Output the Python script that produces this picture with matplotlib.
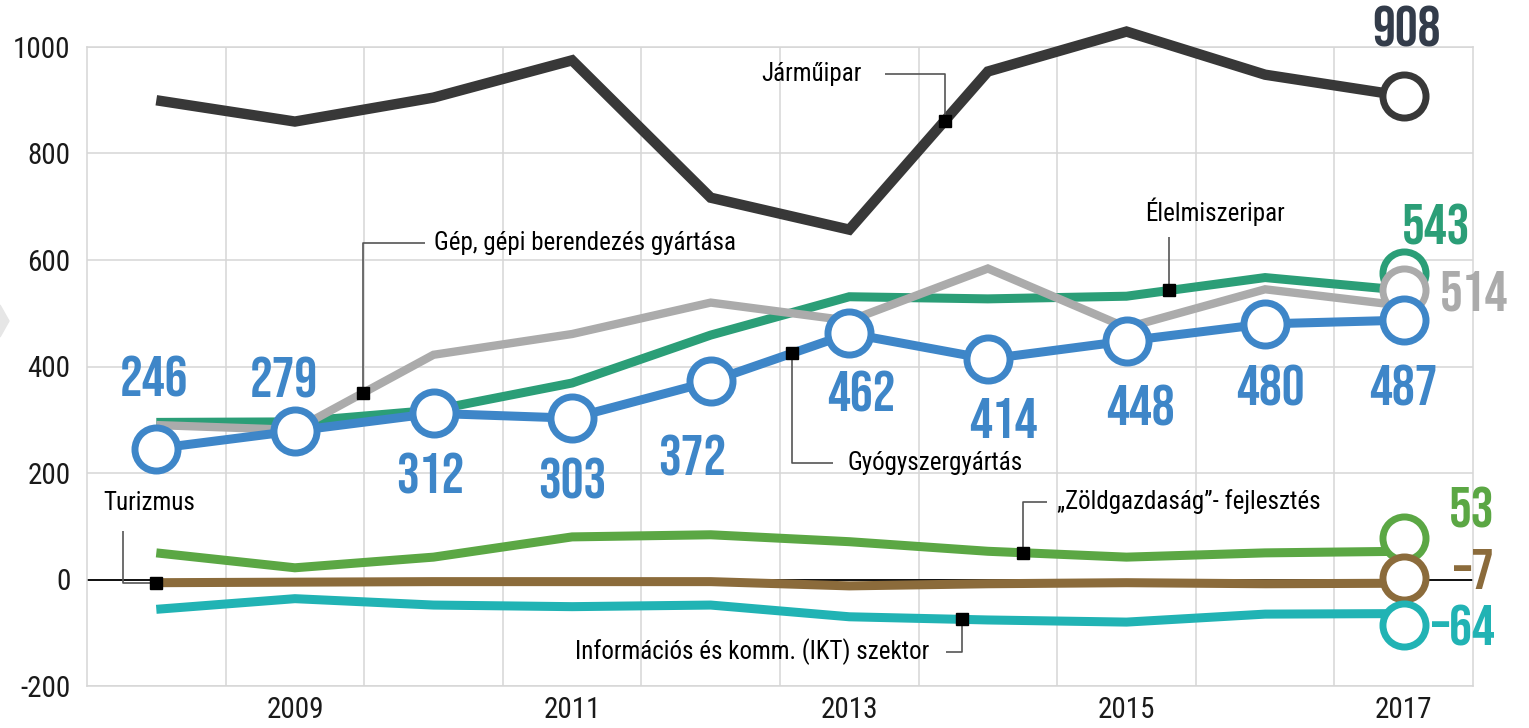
import numpy as np
import matplotlib
matplotlib.use('Agg')
import matplotlib.pyplot as plt
from matplotlib.patches import Polygon
from matplotlib.transforms import ScaledTranslation

# data (2008-2017)
years = [2008, 2009, 2010, 2011, 2012, 2013, 2014, 2015, 2016, 2017]
jarmuipar = [900, 860, 905, 975, 717, 657, 954, 1029, 948, 908]
gep = [290, 281, 422, 461, 520, 486, 584, 473, 545, 514]
elelmiszeripar = [295, 296, 318, 369, 459, 531, 527, 532, 567, 543]
gyogyszer = [246, 279, 312, 303, 372, 462, 414, 448, 480, 487]
zold = [50, 22, 42, 80, 84, 71, 53, 42, 50, 53]
turizmus = [-6, -5, -4, -4, -4, -12, -8, -6, -8, -7]
ikt = [-56, -36, -48, -51, -48, -70, -76, -80, -65, -64]

TEXT_FONT = ['Roboto Condensed', 'Liberation Sans', 'DejaVu Sans']
NUM_FONT = ['Bebas Neue', 'Roboto Condensed', 'DejaVu Sans']
plt.rcParams['font.family'] = TEXT_FONT

W, H = 1529, 728
PX = 0.72  # points per pixel at dpi 100

fig = plt.figure(figsize=(W / 100, H / 100), dpi=100)
ax = fig.add_axes([87 / W, 1 - 686 / H, (1473 - 87) / W, (686 - 47) / H])
x = np.arange(len(years))

ax.set_xlim(-0.5, len(years) - 0.5)
ax.set_ylim(-200, 1000)
ax.set_yticks(range(-200, 1001, 200))
ax.set_yticklabels([str(v) for v in range(-200, 1001, 200)])
ax.set_xticks(x[1::2])
ax.set_xticklabels([str(y) for y in years[1::2]])
ax.set_xticks(x[:-1] + 0.5, minor=True)
ax.tick_params(axis='both', which='both', length=0, labelsize=21, colors='#1a1a1a')
ax.tick_params(axis='y', pad=12)
ax.tick_params(axis='x', pad=7)
ax.grid(True, which='minor', axis='x', color='#d6d6d6', lw=1.1)
ax.grid(True, which='major', axis='y', color='#d6d6d6', lw=1.1)
for s in ax.spines.values():
    s.set_color('#d6d6d6')
    s.set_linewidth(1.1)
ax.set_axisbelow(True)

ax.axhline(0, color='black', lw=1.3, zorder=1.5)

# series: values, colour, line width, zorder, end circle shift (px), end label offset (px)
series = [
    (zold, '#5ba744', 6.5, 3, 13, (68, 44)),
    (turizmus, '#8b6b3b', 6.5, 3.1, 5, (70, 14)),
    (ikt, '#21b3b4', 6.5, 3.2, -11, (60, -12)),
    (elelmiszeripar, '#2b9e77', 6.5, 3.3, 17, (32, 66)),
    (gep, '#ababab', 6.0, 3.4, 16, (70, 15)),
    (jarmuipar, '#383838', 7.5, 3.5, 0, (3, 70)),
]
label_colors = {id(jarmuipar): '#333c4a'}

for vals, col, lw, z, shift, (ldx, ldy) in series:
    ax.plot(x, vals, color=col, lw=lw, zorder=z, clip_on=False,
            solid_joinstyle='miter', solid_capstyle='butt')
    ax.plot(x[-1:], vals[-1:], marker='o', ms=31, mew=5, mfc='white', mec=col,
            ls='none', zorder=z + 0.05, clip_on=False,
            transform=ax.transData + ScaledTranslation(0, shift / 100, fig.dpi_scale_trans))
    ax.annotate(f'{vals[-1]}'.replace('-', '–'), (x[-1], vals[-1]),
                xytext=(ldx * PX, ldy * PX), textcoords='offset points',
                ha='center', va='center_baseline', fontsize=41, family=NUM_FONT,
                color=label_colors.get(id(vals), col), annotation_clip=False, zorder=6)

# pharma line with circles on every point
blue = '#3e86c8'
ax.plot(x, gyogyszer, color=blue, lw=6.5, zorder=4, marker='o', ms=31, mew=5,
        mfc='white', mec=blue, clip_on=False, solid_joinstyle='miter')
blue_dx = [-2, -11, -3, 0, -19, 12, 15, 14, 5, 0]
blue_dy = [72, 54, -60, -60, -74, -58, -59, -64, -61, -65]
for xi, v, dx, dy in zip(x, gyogyszer, blue_dx, blue_dy):
    ax.annotate(str(v), (xi, v), xytext=(dx * PX, dy * PX), textcoords='offset points',
                ha='center', va='center_baseline', fontsize=41, family=NUM_FONT, color=blue,
                annotation_clip=False, zorder=6)

# callouts: square on the line, elbow leader, label
lead = dict(color='#555555', lw=1.2, zorder=5, clip_on=False, solid_capstyle='butt')


def square(vals, xf):
    yv = np.interp(xf, x, vals)
    ax.plot([xf], [yv], marker='s', ms=8, color='black', zorder=5.5, clip_on=False)
    return yv


callouts = [
    ('Járműipar', jarmuipar, 5.69, 949, 5.09, 'right', 5.26),
    ('Gép, gépi berendezés gyártása', gep, 1.49, 631, 2.0, 'left', 1.94),
    ('Gyógyszergyártás', gyogyszer, 4.59, 219, 4.99, 'left', 4.88),
    ('„Zöldgazdaság”- fejlesztés', zold, 6.25, 146, 6.50, 'left', 6.43),
    ('Információs és komm. (IKT) szektor', ikt, 5.81, -136, 5.58, 'right', 5.70),
]
for text, vals, sx, ty, tx, ha, lx in callouts:
    sy = square(vals, sx)
    ax.plot([sx, sx, lx], [sy, ty, ty], **lead)
    ax.text(tx, ty, text, ha=ha, va='center', fontsize=18, color='black', zorder=6)

# Élelmiszeripar: vertical leader only
sy = square(elelmiszeripar, 7.31)
ax.plot([7.31, 7.31], [sy, 643], **lead)
ax.text(7.64, 690, 'Élelmiszeripar', ha='center', va='center', fontsize=18, zorder=6)

# Turizmus: leader goes left then up
sy = square(turizmus, 0)
ax.plot([0, -0.24, -0.24], [sy, sy, 91], **lead)
ax.text(-0.05, 143, 'Turizmus', ha='center', va='center', fontsize=18, zorder=6)

# faint arrow mark on the left edge
fig.patches.append(Polygon([[0, 1 - 305 / H], [9 / W, 1 - 321 / H], [0, 1 - 337 / H]],
                           closed=True, transform=fig.transFigure, color='#e6e6e6'))

fig.savefig('out.png', dpi=100)
